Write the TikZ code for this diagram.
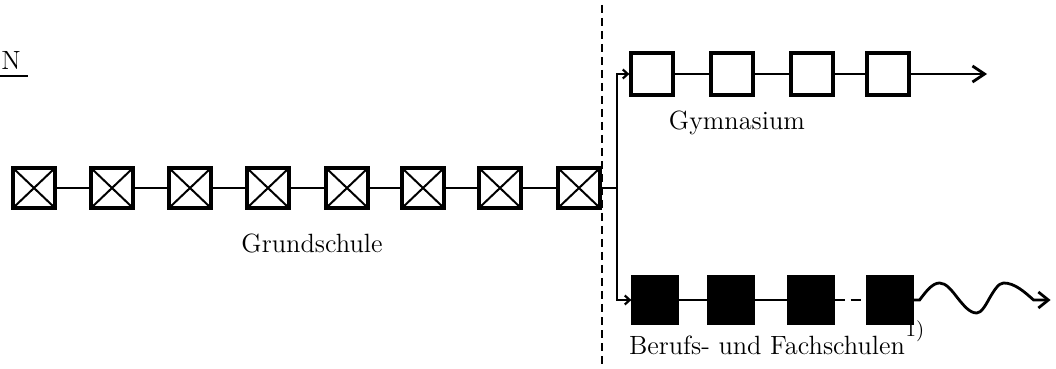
\documentclass[tikz,border=0pt]{standalone}
\usetikzlibrary{arrows.meta}
\tikzset{
  schoolbox/.style={draw,line width=1.6pt,minimum width=21pt,minimum height=21pt,inner sep=0pt},
  crossbox/.style={schoolbox,minimum height=20pt,path picture={
      \draw[line width=1pt] (path picture bounding box.north west) -- (path picture bounding box.south east)
        (path picture bounding box.north east) -- (path picture bounding box.south west);}},
  fullbox/.style={schoolbox,fill=black,minimum width=22pt,minimum height=23pt},
  link/.style={line width=1.1pt},
  labeltext/.style={font=\fontsize{13.2}{15}\selectfont}
}
\begin{document}
\begin{tikzpicture}[x=0.5pt,y=-0.5pt]
\useasboundingbox (0,0) rectangle (1056,369);
\node[labeltext,inner sep=0pt] (n) at (11,60) {N};
\draw[line width=1.3pt] (0,76) -- (28,76);
\draw[line width=1.1pt,dash pattern=on 4pt off 2.5pt] (602,5) -- (602,369);
\foreach \x [count=\i] in {34,112,190,268,347,423,500,579}
  \node[crossbox] (g\i) at (\x,188) {};
\foreach \i [evaluate=\i as \j using int(\i+1)] in {1,...,7}
  \draw[link] (g\i) -- (g\j);
\foreach \x [count=\i] in {652,732,812,888}
  \node[schoolbox] (y\i) at (\x,74) {};
\foreach \i [evaluate=\i as \j using int(\i+1)] in {1,...,3}
  \draw[link] (y\i) -- (y\j);
\foreach \x [count=\i] in {655,731,811,890}
  \node[fullbox] (b\i) at (\x,300) {};
\draw[link] (b1) -- (b2) (b2) -- (b3);
\draw[link,dash pattern=on 5pt off 3pt] (b3) -- (b4);
\coordinate (split) at (617,188);
\coordinate (yend) at (987,74);
\draw[link] (g8.east) -- (split);
\draw[link,-{Straight Barb[length=2.5pt,width=4.5pt]}] (split) |- (y1.west);
\draw[link,-{Straight Barb[length=2.5pt,width=4.5pt]}] (split) |- (b1.west);
\draw[link,-{Straight Barb[length=6pt,width=8pt,line width=1.4pt]}] (y4) -- (yend);
\draw[line width=1.4pt,-{Straight Barb[length=5pt,width=8pt]}] (b4.east) -- ++(6,0)
  sin ++(20,-17) cos ++(18,15) sin ++(19,15) cos ++(13,-15)
  sin ++(14,-15) cos ++(30,17) -- ++(17,0);
\node[labeltext] (grund) at (312,243) {Grundschule};
\node[labeltext] (gym) at (737,123) {Gymnasium};
\node[labeltext] (beruf) at (767,345) {Berufs- und Fachschulen};
\node[font=\fontsize{10.5}{12}\selectfont,inner sep=0pt] (fn) at (915,331) {1)};
\end{tikzpicture}
\end{document}
